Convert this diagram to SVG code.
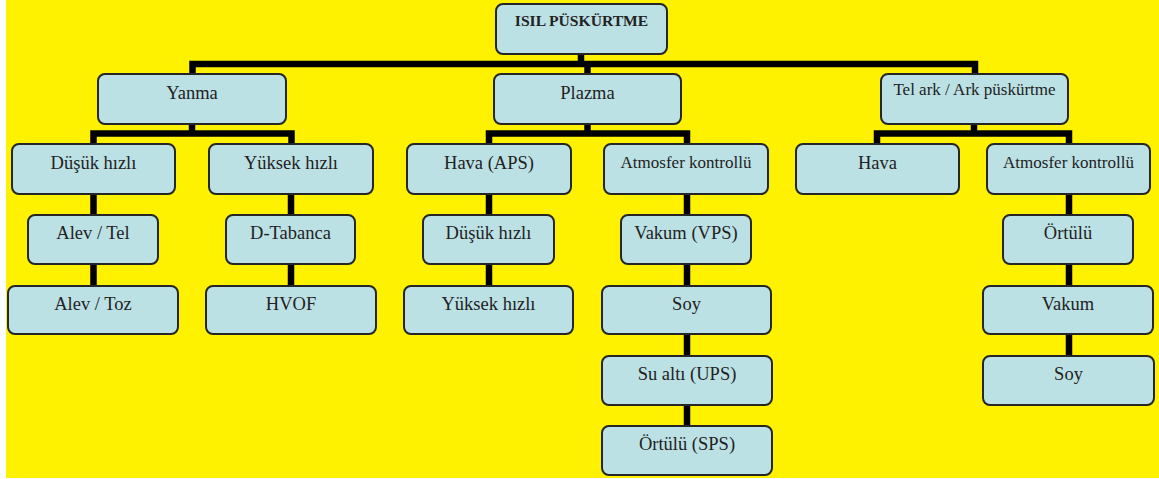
<svg xmlns="http://www.w3.org/2000/svg" width="1159" height="479" viewBox="0 0 1159 479">
<style>
.bg{fill:#fff200}
.box{fill:#bce1e5;stroke:#262626;stroke-width:2}
.t{font-family:"Liberation Serif","Times New Roman",serif;font-size:18.5px;fill:#222;text-anchor:middle}
.s{font-size:17px}
.b{font-weight:bold;font-size:15.6px}
.c{fill:none;stroke:#000;stroke-width:6.5;stroke-linejoin:miter;stroke-linecap:butt}
</style>
<rect x="0" y="0" width="1159" height="479" fill="#fff"/>
<rect class="bg" x="6" y="0" width="1153" height="478"/>
<g id="connectors">
<path class="c" d="M581 54V64"/>
<path class="c" d="M192.5 74V64H975V74"/>
<path class="c" d="M587.5 64V74"/>
<path class="c" d="M192 124V133.5"/>
<path class="c" d="M93.5 144V133.5H291.5V144"/>
<path class="c" d="M93.5 194V215M93.5 264V286"/>
<path class="c" d="M291 194V215M291 264V286"/>
<path class="c" d="M587.5 124V133.5"/>
<path class="c" d="M489 144V133.5H687V144"/>
<path class="c" d="M489 194V215M489 264V286"/>
<path class="c" d="M687 194V215M687 264V286M687 334V356M687 405V426"/>
<path class="c" d="M974 124V133.5"/>
<path class="c" d="M877 144V133.5H1069V144"/>
<path class="c" d="M1069 194V215M1069 264V286M1069 334V356"/>
</g>
<g id="root"><rect class="box" x="496" y="4" width="171" height="50" rx="7"/><text class="t b" x="581.5" y="26">ISIL PÜSKÜRTME</text></g>
<g id="yanma"><rect class="box" x="98" y="74" width="188" height="50" rx="7"/><text class="t" x="192" y="98.5">Yanma</text></g>
<g id="plazma"><rect class="box" x="494" y="74" width="187" height="50" rx="7"/><text class="t" x="587.5" y="98.5">Plazma</text></g>
<g id="telark"><rect class="box" x="881" y="74" width="187" height="50" rx="7"/><text class="t s" x="974.5" y="95">Tel ark / Ark püskürtme</text></g>
<g id="y_dusuk"><rect class="box" x="12" y="144" width="163" height="50" rx="7"/><text class="t" x="93.5" y="168.5">Düşük hızlı</text></g>
<g id="y_yuksek"><rect class="box" x="209" y="144" width="164" height="50" rx="7"/><text class="t" x="291" y="168.5">Yüksek hızlı</text></g>
<g id="alev_tel"><rect class="box" x="28" y="215" width="130" height="49" rx="7"/><text class="t" x="93" y="239">Alev / Tel</text></g>
<g id="d_tabanca"><rect class="box" x="226" y="215" width="129" height="49" rx="7"/><text class="t" x="290.5" y="239">D-Tabanca</text></g>
<g id="alev_toz"><rect class="box" x="8" y="286" width="170" height="48" rx="7"/><text class="t" x="93" y="310">Alev / Toz</text></g>
<g id="hvof"><rect class="box" x="206" y="286" width="170" height="48" rx="7"/><text class="t" x="291" y="310">HVOF</text></g>
<g id="hava_aps"><rect class="box" x="407" y="144" width="164" height="50" rx="7"/><text class="t" x="489" y="168.5">Hava (APS)</text></g>
<g id="p_atm"><rect class="box" x="604" y="144" width="164" height="50" rx="7"/><text class="t s" x="686" y="168">Atmosfer kontrollü</text></g>
<g id="p_dusuk"><rect class="box" x="423" y="215" width="131" height="49" rx="7"/><text class="t" x="488.5" y="239">Düşük hızlı</text></g>
<g id="vakum_vps"><rect class="box" x="621" y="215" width="130" height="49" rx="7"/><text class="t" x="686" y="239">Vakum (VPS)</text></g>
<g id="p_yuksek"><rect class="box" x="404" y="286" width="169" height="48" rx="7"/><text class="t" x="488.5" y="310">Yüksek hızlı</text></g>
<g id="p_soy"><rect class="box" x="602" y="286" width="169" height="48" rx="7"/><text class="t" x="686.5" y="310">Soy</text></g>
<g id="su_alti"><rect class="box" x="602" y="356" width="170" height="49" rx="7"/><text class="t" x="687" y="380">Su altı (UPS)</text></g>
<g id="ortulu_sps"><rect class="box" x="602" y="426" width="170" height="49" rx="7"/><text class="t" x="687" y="450">Örtülü (SPS)</text></g>
<g id="t_hava"><rect class="box" x="796" y="144" width="163" height="50" rx="7"/><text class="t" x="877.5" y="168.5">Hava</text></g>
<g id="t_atm"><rect class="box" x="987" y="144" width="163" height="50" rx="7"/><text class="t s" x="1068.5" y="168">Atmosfer kontrollü</text></g>
<g id="t_ortulu"><rect class="box" x="1003" y="215" width="130" height="49" rx="7"/><text class="t" x="1068" y="239">Örtülü</text></g>
<g id="t_vakum"><rect class="box" x="983" y="286" width="170" height="48" rx="7"/><text class="t" x="1068" y="310">Vakum</text></g>
<g id="t_soy"><rect class="box" x="983" y="356" width="171" height="49" rx="7"/><text class="t" x="1068.5" y="380">Soy</text></g>
</svg>
